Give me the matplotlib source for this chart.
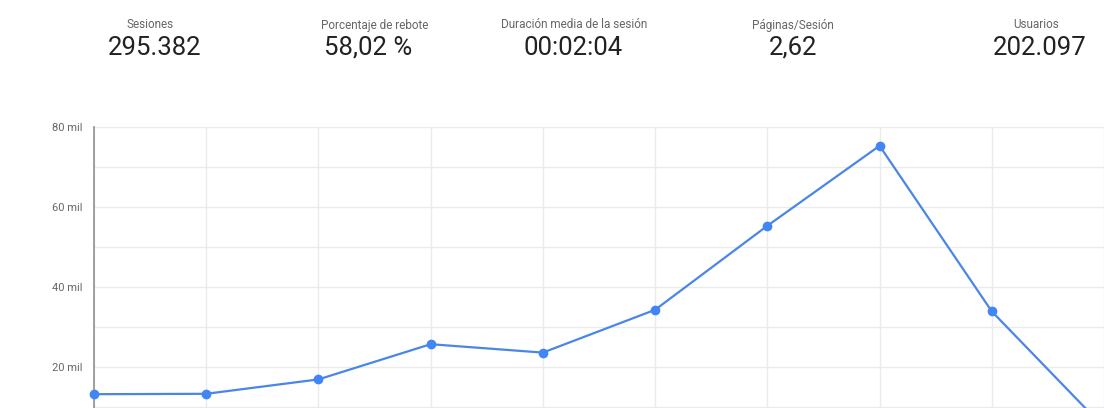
import matplotlib.pyplot as plt
from matplotlib.ticker import FuncFormatter, MultipleLocator

# KPI header
kpi_labels = ['Sesiones', 'Porcentaje de rebote', 'Duración media de la sesión', 'Páginas/Sesión', 'Usuarios']
kpi_values = ['295.382', '58,02 %', '00:02:04', '2,62', '202.097']
label_x = [150, 375, 574, 793, 1036]  # pixel centres
value_x = [155, 368, 573, 793, 1040]

# Line series (sessions per period)
periods = list(range(10))
sessions = [13200, 13300, 16900, 25700, 23600, 34300, 55300, 75300, 33900, 4900]

plt.rcParams['font.family'] = ['Roboto', 'DejaVu Sans']

W, H = 1104, 408
fig = plt.figure(figsize=(W / 100, H / 100), dpi=100)

for lx, vx, lab, val in zip(label_x, value_x, kpi_labels, kpi_values):
    fig.text(lx / W, 1 - 25 / H, lab, ha='center', va='center', fontsize=8.5, color='#666666')
    fig.text(vx / W, 1 - 48 / H, val, ha='center', va='center', fontsize=18.5, color='#222222')

left, top, bottom = 94, 127, 408
ax = fig.add_axes([left / W, 1 - bottom / H, 1 - left / W, (bottom - top) / H])

ax.plot(periods, sessions, color='#4a86e8', lw=1.6, marker='o', ms=6,
        markerfacecolor='#4285f4', markeredgecolor='#4285f4', zorder=5, clip_on=False)

step = 114
ax.set_xlim(0, (W - left) / step)
ymin = 80000 - (bottom - top) / 80 * 20000
ax.set_ylim(ymin, 80000)

ax.set_xticks(periods)
ax.xaxis.set_ticklabels([])
ax.yaxis.set_major_locator(MultipleLocator(20000))
ax.yaxis.set_minor_locator(MultipleLocator(10000))
ax.yaxis.set_major_formatter(FuncFormatter(lambda v, p: f'{int(v / 1000)} mil'))
ax.tick_params(axis='both', length=0, which='both')
ax.tick_params(axis='y', labelsize=8, labelcolor='#666666', pad=8)

ax.grid(True, which='both', axis='y', color='#ebebeb', lw=1)
ax.grid(True, which='major', axis='x', color='#ebebeb', lw=1)
ax.set_axisbelow(True)

for s in ['top', 'right', 'bottom']:
    ax.spines[s].set_visible(False)
ax.spines['left'].set_color('#999999')
ax.spines['left'].set_linewidth(1.3)
ax.spines['left'].set_zorder(4)

fig.savefig('out.png', dpi=100)
